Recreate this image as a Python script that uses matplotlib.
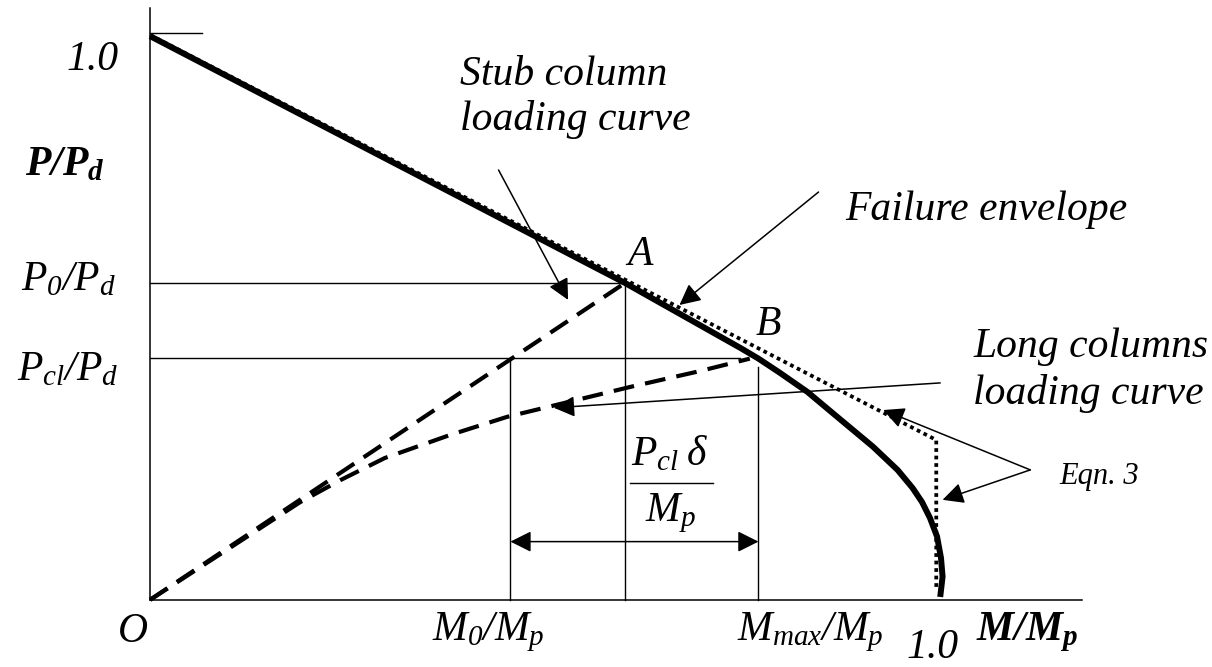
import matplotlib
matplotlib.use('Agg')
import matplotlib.pyplot as plt

plt.rcParams['font.family'] = ['Liberation Serif', 'DejaVu Serif']
plt.rcParams['font.style'] = 'italic'
plt.rcParams['mathtext.fontset'] = 'custom'
plt.rcParams['mathtext.it'] = 'Liberation Serif:italic'
plt.rcParams['mathtext.rm'] = 'Liberation Serif:italic'
plt.rcParams['mathtext.bf'] = 'Liberation Serif:bold:italic'

# failure envelope (thick): M/Mp, P/Pd
env_m = [0.0, 0.601, 0.747, 0.770, 0.797, 0.832, 0.873, 0.915, 0.946,
         0.965, 0.977, 0.987, 0.996, 1.001, 1.003, 1.0]
env_p = [0.998, 0.561, 0.446, 0.427, 0.402, 0.368, 0.320, 0.271, 0.230,
         0.198, 0.173, 0.145, 0.112, 0.074, 0.041, 0.005]

# Eqn. 3 approximation (dotted)
eqn_m = [0.0, 0.995, 0.995]
eqn_p = [1.0, 0.283, 0.018]

# stub column loading path (straight dashed) O -> A
stub_m = [0.0, 0.601]
stub_p = [0.0, 0.561]

# long column loading path (curved dashed) O -> B
long_m = [0.0, 0.190, 0.241, 0.297, 0.380, 0.452, 0.514, 0.608, 0.696, 0.759]
long_p = [0.0, 0.173, 0.212, 0.251, 0.292, 0.324, 0.345, 0.377, 0.405, 0.427]

# reference levels
M0, MA, Mmax = 0.456, 0.601, 0.770
P0, Pcl = 0.561, 0.428

fig = plt.figure(figsize=(12.12, 6.67), dpi=100)
ax = fig.add_axes([0, 0, 1, 1])
ax.set_xlim(-0.190, 1.344)
ax.set_ylim(-0.119, 1.062)
ax.axis('off')

# axes of the sketch
ax.plot([0, 0], [0, 1.048], color='k', lw=1.1)
ax.plot([0, 1.18], [0, 0], color='k', lw=1.1)
ax.plot([0, 0.066], [1.004, 1.004], color='k', lw=1.0)

# thin construction lines
ax.plot([0, MA], [P0, P0], color='k', lw=1.0)
ax.plot([0, 0.747], [Pcl, Pcl], color='k', lw=1.0)
ax.plot([M0, M0], [0, Pcl], color='k', lw=1.0)
ax.plot([MA, MA], [0, P0], color='k', lw=1.0)
ax.plot([Mmax, Mmax], [0, 0.413], color='k', lw=1.0)

ax.plot(env_m, env_p, color='k', lw=4.3, solid_capstyle='butt',
        solid_joinstyle='round', zorder=3)
ax.plot(eqn_m, eqn_p, color='k', lw=2.7, linestyle=(0, (1, 1.0)), zorder=2)
ax.plot(stub_m, stub_p, color='k', lw=3.0, linestyle=(0, (5, 2.7)))
ax.plot(long_m, long_p, color='k', lw=3.0, linestyle=(0, (5, 2.7)))

fs = 30
arr = dict(arrowstyle='-|>', mutation_scale=32, lw=1.1, color='k',
           shrinkA=0, shrinkB=0)

# axis labels
ax.text(-0.04, 0.956, '1.0', fontsize=fs, ha='right', va='center')
ax.text(-0.108, 0.770, r'$\mathbf{P/P_d}$', fontsize=fs, ha='center', va='center')
ax.text(-0.104, 0.566, r'$P_0/P_d$', fontsize=fs, ha='center', va='center')
ax.text(-0.104, 0.407, r'$P_{cl}/P_d$', fontsize=fs, ha='center', va='center')
ax.text(-0.022, -0.057, 'O', fontsize=fs, ha='center', va='center')
ax.text(0.428, -0.057, r'$M_0/M_p$', fontsize=fs, ha='center', va='center')
ax.text(0.835, -0.057, r'$M_{max}/M_p$', fontsize=fs, ha='center', va='center')
ax.text(0.99, -0.085, '1.0', fontsize=fs, ha='center', va='center')
ax.text(1.11, -0.058, r'$\mathbf{M/M_p}$', fontsize=fs, ha='center', va='center')

# point labels
ax.text(0.620, 0.611, 'A', fontsize=fs, ha='center', va='center')
ax.text(0.782, 0.487, 'B', fontsize=fs, ha='center', va='center')

# callouts
ax.text(0.392, 0.929, 'Stub column', fontsize=fs, ha='left', va='center')
ax.text(0.392, 0.850, 'loading curve', fontsize=fs, ha='left', va='center')
ax.annotate('', xy=(0.529, 0.531), xytext=(0.441, 0.761), arrowprops=arr)

ax.text(0.880, 0.690, 'Failure envelope', fontsize=fs, ha='left', va='center')
ax.annotate('', xy=(0.670, 0.522), xytext=(0.846, 0.722), arrowprops=arr)

ax.text(1.042, 0.448, 'Long columns', fontsize=fs, ha='left', va='center')
ax.text(1.042, 0.366, 'loading curve', fontsize=fs, ha='left', va='center')
ax.annotate('', xy=(0.511, 0.340), xytext=(1.0, 0.384), arrowprops=arr)

ax.text(1.151, 0.218, 'Eqn. 3', fontsize=22, ha='left', va='center')
ax.annotate('', xy=(0.928, 0.336), xytext=(1.114, 0.230), arrowprops=arr)
ax.annotate('', xy=(1.003, 0.177), xytext=(1.114, 0.230), arrowprops=arr)

# P_cl delta / M_p dimension
ax.text(0.658, 0.257, r'$P_{cl}\;\delta$', fontsize=fs, ha='center', va='center')
ax.plot([0.608, 0.713], [0.207, 0.207], color='k', lw=1.0)
ax.text(0.658, 0.154, r'$M_p$', fontsize=fs, ha='center', va='center')
ax.annotate('', xy=(M0, 0.103), xytext=(Mmax, 0.103),
            arrowprops=dict(arrowstyle='<|-|>', mutation_scale=32, lw=1.1,
                            color='k', shrinkA=0, shrinkB=0))

fig.savefig('out.png', dpi=100)
